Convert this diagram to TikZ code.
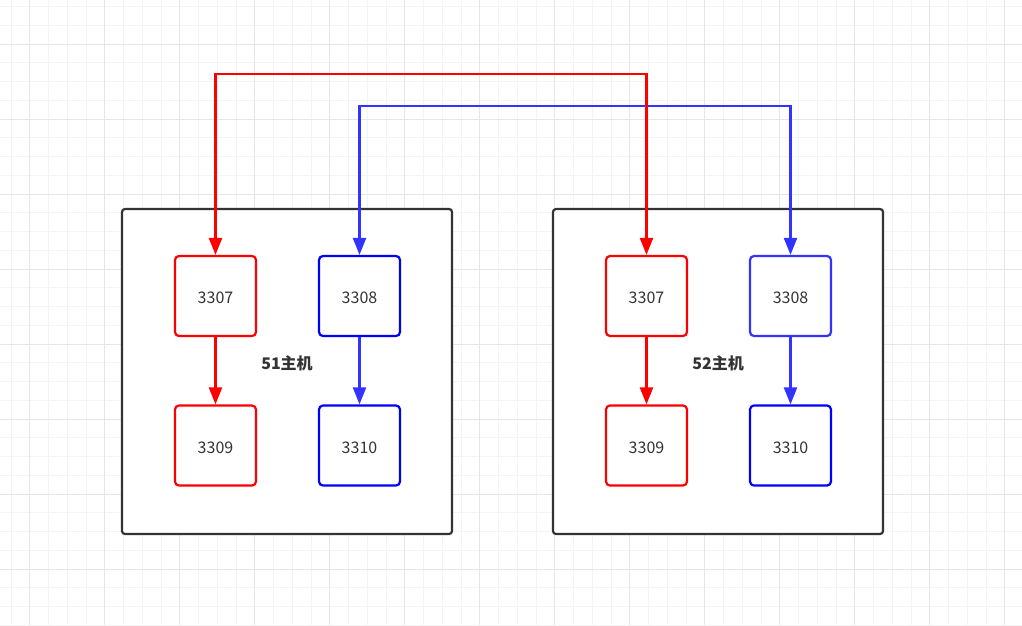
\documentclass[tikz,border=0pt]{standalone}
\usepackage{fontspec}
\newfontfamily\cjk{Noto Sans CJK SC}
\usetikzlibrary{arrows.meta}
\definecolor{gridminor}{HTML}{F4F4F4}
\definecolor{gridmajor}{HTML}{E6E6E6}
\definecolor{hostline}{HTML}{333333}
\definecolor{txt}{HTML}{333333}
\definecolor{redc}{HTML}{FF0000}
\definecolor{bluec}{HTML}{0000FF}
\definecolor{bluel}{HTML}{3333FF}
\tikzset{
  host/.style={draw=hostline, fill=white, line width=2.2pt, rounded corners=3pt, minimum width=330pt, minimum height=325pt, inner sep=0pt},
  port/.style={fill=white, line width=2.2pt, rounded corners=4pt, minimum width=81pt, minimum height=80pt, inner sep=0pt, text=txt, text height=15.5pt, text depth=0pt, font=\cjk\fontsize{16}{18}\selectfont},
  hostlabel/.style={text=txt, font=\cjk\bfseries\fontsize{16}{18}\selectfont, inner sep=0pt},
  tipA/.tip={Triangle[length=17pt,width=13pt]},
  link/.style={line width=2.2pt, -tipA},
  dlink/.style={line width=2.2pt, tipA-tipA},
}
\begin{document}
\begin{tikzpicture}[x=1pt,y=-1pt]
\useasboundingbox (0,0) rectangle (1022,625);
\fill[white] (0,0) rectangle (1022,625);
% grid
\foreach \i in {0,...,54} {
  \pgfmathsetmacro\gx{11+18.75*\i}
  \draw[gridminor, line width=1pt] (\gx,0) -- (\gx,625);
}
\foreach \i in {0,...,33} {
  \pgfmathsetmacro\gy{6.7+18.75*\i}
  \draw[gridminor, line width=1pt] (0,\gy) -- (1022,\gy);
}
\foreach \i in {0,...,13} {
  \pgfmathsetmacro\gx{29.7+75*\i}
  \draw[gridmajor, line width=1pt] (\gx,0) -- (\gx,625);
}
\foreach \i in {0,...,7} {
  \pgfmathsetmacro\gy{44.3+75*\i}
  \draw[gridmajor, line width=1pt] (0,\gy) -- (1022,\gy);
}
% hosts
\node[host] (h51) at (287,371.5) {};
\node[host] (h52) at (718,371.5) {};
\node[hostlabel] (l51) at (287,363) {51主机};
\node[hostlabel] (l52) at (718,363) {52主机};
% ports host 51
\node[port, draw=redc] (a7) at (215.5,296) {3307};
\node[port, draw=bluec] (a8) at (359.5,296) {3308};
\node[port, draw=redc] (a9) at (215.5,445.5) {3309};
\node[port, draw=bluec] (a10) at (359.5,445.5) {3310};
% ports host 52
\node[port, draw=redc] (b7) at (646.5,296) {3307};
\node[port, draw=bluel] (b8) at (790.5,296) {3308};
\node[port, draw=redc] (b9) at (646.5,445.5) {3309};
\node[port, draw=bluec] (b10) at (790.5,445.5) {3310};
% local links
\draw[link, redc] (a7) -- (a9);
\draw[link, bluel] (a8) -- (a10);
\draw[link, redc] (b7) -- (b9);
\draw[link, bluel] (b8) -- (b10);
% cross links
\coordinate (bluetop) at (359.5,106);
\coordinate (redtop) at (215.5,74);
\draw[dlink, bluel, line join=miter] (a8.north) -- (bluetop) -| (b8.north);
\draw[dlink, redc, line join=miter] (a7.north) -- (redtop) -| (b7.north);
\end{tikzpicture}
\end{document}
